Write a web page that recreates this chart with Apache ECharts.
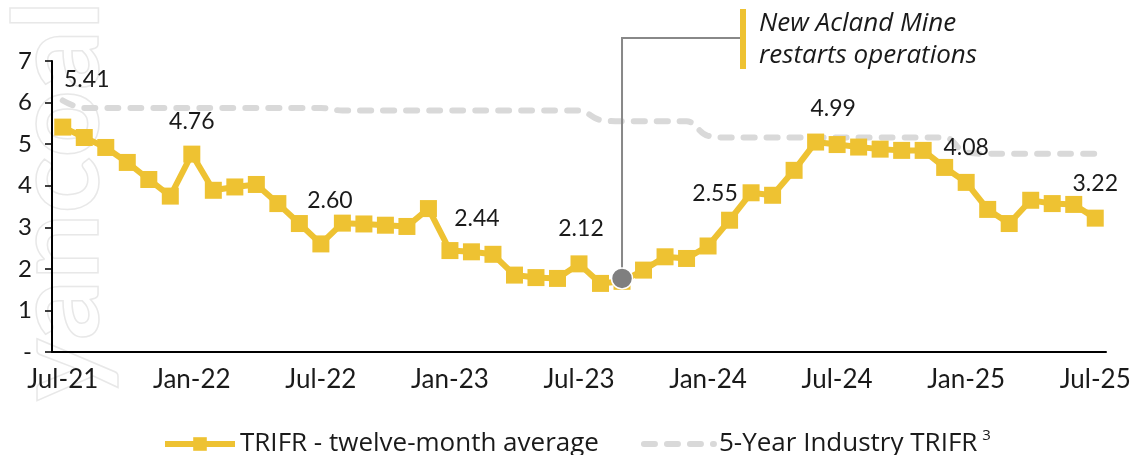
<!DOCTYPE html>
<html>
<head>
<meta charset="utf-8">
<script src="https://cdn.jsdelivr.net/npm/echarts@6/dist/echarts.min.js"></script>
<style>
  html, body { margin: 0; padding: 0; background: #fff; }
  #chart { width: 1137px; height: 455px; }
</style>
</head>
<body>
<div id="chart"></div>
<script>
// months Jul-21 .. Jul-25
const months = [
  'Jul-21', 'Aug-21', 'Sep-21', 'Oct-21', 'Nov-21', 'Dec-21',
  'Jan-22', 'Feb-22', 'Mar-22', 'Apr-22', 'May-22', 'Jun-22',
  'Jul-22', 'Aug-22', 'Sep-22', 'Oct-22', 'Nov-22', 'Dec-22',
  'Jan-23', 'Feb-23', 'Mar-23', 'Apr-23', 'May-23', 'Jun-23',
  'Jul-23', 'Aug-23', 'Sep-23', 'Oct-23', 'Nov-23', 'Dec-23',
  'Jan-24', 'Feb-24', 'Mar-24', 'Apr-24', 'May-24', 'Jun-24',
  'Jul-24', 'Aug-24', 'Sep-24', 'Oct-24', 'Nov-24', 'Dec-24',
  'Jan-25', 'Feb-25', 'Mar-25', 'Apr-25', 'May-25', 'Jun-25',
  'Jul-25'
]

// TRIFR - twelve-month average
const trifr = [
  5.41, 5.16, 4.92, 4.56, 4.15, 3.75, 4.76, 3.89, 3.97, 4.03, 3.57, 3.09,
  2.60, 3.10, 3.08, 3.05, 3.02, 3.45, 2.44, 2.41, 2.35, 1.85, 1.79, 1.77,
  2.12, 1.65, 1.70, 1.97, 2.29, 2.25, 2.55, 3.17, 3.83, 3.77, 4.37, 5.05,
  4.99, 4.93, 4.88, 4.85, 4.85, 4.44, 4.08, 3.43, 3.09, 3.65, 3.57, 3.55,
  3.22
]

// 5-Year Industry TRIFR
const industry = [
  6.05, 5.87, 5.87, 5.87, 5.87, 5.87, 5.87, 5.87, 5.87, 5.87, 5.87, 5.87,
  5.87, 5.81, 5.81, 5.81, 5.81, 5.81, 5.81, 5.81, 5.81, 5.81, 5.81, 5.81,
  5.81, 5.58, 5.55, 5.55, 5.55, 5.55, 5.20, 5.16, 5.16, 5.16, 5.16, 5.16,
  5.16, 5.16, 5.16, 5.16, 5.16, 5.16, 4.80, 4.77, 4.77, 4.77, 4.77, 4.77,
  4.77
]

const yTicks = ['-', '1', '2', '3', '4', '5', '6', '7']

// annotation: New Acland restart
const annotMonth = 'Sep-23'
const annotValue = 1.77
const annotText = ['New Acland Mine', 'restarts operations']

const YELLOW = '#EEC232'
const GREY_DASH = '#D9D9D9'
const TEXT = '#1a1a1a'
const FONT = 'Lato, "Open Sans", sans-serif'
const FONT2 = '"Open Sans", Lato, sans-serif'

// label offsets (px) for the labelled months, hand-placed like the original
const labelOffsets = {
  0: [24, -48], 6: [0, -33], 12: [9, -43], 18: [27, -32], 24: [2, -35],
  30: [7, -52], 36: [-4, -36], 42: [0, -35], 48: [0, -35]
}

const chart = echarts.init(document.getElementById('chart'))

const trifrData = trifr.map((v, i) => {
  const off = labelOffsets[i]
  if (!off) return v
  return {
    value: v,
    label: {
      show: true,
      position: 'inside',
      offset: off,
      formatter: (p) => p.value.toFixed(2),
      color: TEXT,
      fontFamily: FONT,
      fontSize: 23
    }
  }
})

const option = {
  animation: false,
  backgroundColor: '#fff',
  grid: { left: 52, right: 31, top: 61, bottom: 103 },
  legend: {
    data: [
      { name: 'TRIFR - twelve-month average', lineStyle: { width: 6 } },
      { name: '5-Year Industry TRIFR', itemStyle: { opacity: 0 }, lineStyle: { width: 6 } }
    ],
    left: 157,
    top: 423,
    itemWidth: 70,
    itemHeight: 17,
    itemGap: 42,
    formatter: (name) => name === '5-Year Industry TRIFR' ? '{a|' + name + '}{sup|3}' : '{a|' + name + '}',
    textStyle: {
      color: TEXT,
      fontFamily: FONT2,
      fontSize: 26,
      rich: {
        a: { fontFamily: FONT2, fontSize: 26, color: TEXT, lineHeight: 32 },
        sup: { fontFamily: FONT2, fontSize: 15, color: TEXT, verticalAlign: 'top', padding: [0, 0, 14, 5] }
      }
    }
  },
  xAxis: {
    type: 'category',
    data: months,
    boundaryGap: true,
    axisLine: { lineStyle: { color: '#000', width: 2 } },
    axisTick: { interval: 5, length: 7, lineStyle: { color: '#000', width: 1.5 } },
    axisLabel: {
      interval: 5,
      color: TEXT,
      fontFamily: FONT,
      fontSize: 26,
      margin: 15
    },
    splitLine: { show: false }
  },
  yAxis: {
    type: 'value',
    min: 0,
    max: 7,
    interval: 1,
    axisLine: { show: true, lineStyle: { color: '#000', width: 2 } },
    axisTick: { show: true, length: 7, lineStyle: { color: '#000', width: 1.5 } },
    axisLabel: {
      color: TEXT,
      fontFamily: FONT,
      fontSize: 24,
      margin: 20,
      formatter: (v) => yTicks[v]
    },
    splitLine: { show: false }
  },
  series: [
    {
      name: 'TRIFR - twelve-month average',
      type: 'line',
      data: trifrData,
      z: 3,
      symbol: 'rect',
      symbolSize: 17,
      showAllSymbol: true,
      itemStyle: { color: YELLOW },
      lineStyle: { color: YELLOW, width: 6 },
      emphasis: { disabled: true }
    },
    {
      name: '5-Year Industry TRIFR',
      type: 'line',
      data: industry,
      z: 2,
      smooth: 0.4,
      showSymbol: false,
      symbol: 'none',
      itemStyle: { color: GREY_DASH },
      lineStyle: { color: GREY_DASH, width: 6, type: [11, 12], cap: 'round' },
      emphasis: { disabled: true }
    },
    {
      name: 'annotation',
      type: 'scatter',
      data: [[annotMonth, annotValue]],
      z: 5,
      symbol: 'circle',
      symbolSize: 21,
      itemStyle: { color: '#7F7F7F', opacity: 1, borderColor: '#fff', borderWidth: 1.5 },
      emphasis: { disabled: true }
    }
  ]
}

chart.setOption(option)

// connector + callout, anchored to the annotated point
const pt = chart.convertToPixel({ seriesIndex: 2 }, [annotMonth, annotValue])
const calloutY = 38
const barX = 740

chart.setOption({
  graphic: [
    {
      // faint outlined watermark on the left edge
      type: 'text',
      left: 0, top: 0,
      rotation: Math.PI / 2,
      x: 60, y: 470,
      silent: true,
      style: {
        text: 'yancoal',
        font: 'bold 118px Lato',
        fill: 'none',
        stroke: '#e8e8e8',
        lineWidth: 1.5
      },
      z: -10
    },
    {
      type: 'polyline',
      z: 4,
      shape: { points: [[pt[0], pt[1] - 10], [pt[0], calloutY], [barX, calloutY]] },
      style: { stroke: '#888', lineWidth: 2, fill: 'none' }
    },
    {
      type: 'rect',
      shape: { x: barX, y: 9, width: 6, height: 60 },
      style: { fill: YELLOW }
    },
    {
      type: 'text',
      x: 759, y: 8,
      style: {
        text: annotText.join('\n'),
        font: 'italic 26px "Open Sans"',
        fill: TEXT,
        lineHeight: 32
      }
    }
  ]
})

window.addEventListener('resize', () => chart.resize())
</script>
</body>
</html>
